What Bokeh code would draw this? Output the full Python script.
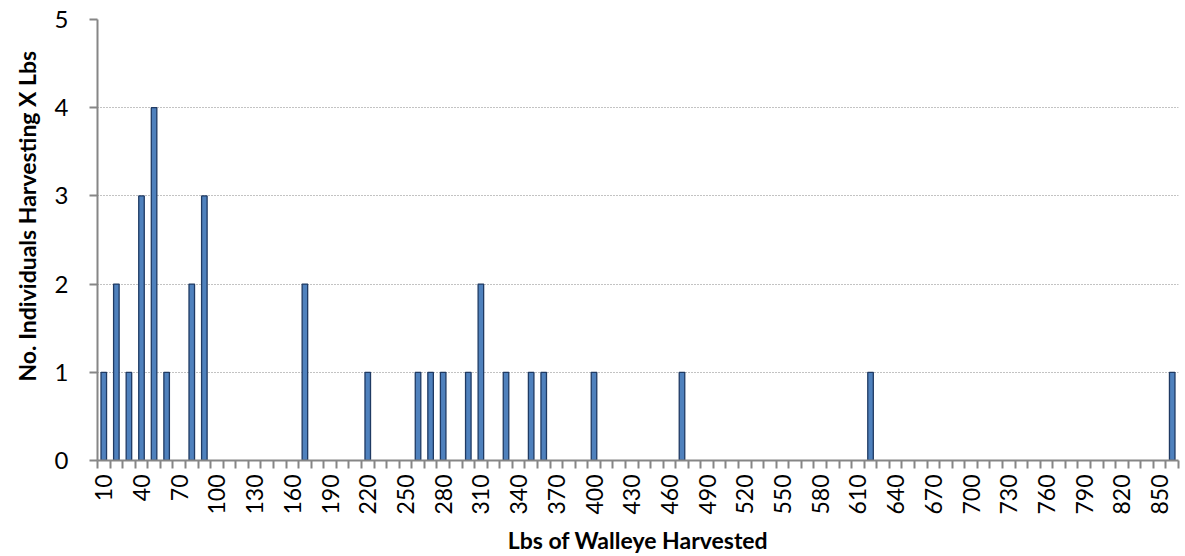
from bokeh.plotting import figure
from bokeh.models import FixedTicker, Range1d, ColumnDataSource, Title
from bokeh.embed import file_html
from bokeh.resources import INLINE

# Categories (lbs harvested, bins of 10 lbs) shown on the axis
categories = list(range(10, 870, 10))
tick_labels = ["10", "40", "70", "100", "130", "160", "190", "220", "250", "280",
               "310", "340", "370", "400", "430", "460", "490", "520", "550", "580",
               "610", "640", "670", "700", "730", "760", "790", "820", "850"]

# Non-zero bars
harvest_lbs = [10, 20, 30, 40, 50, 60, 80, 90, 170, 220, 260, 270, 280, 300,
               310, 330, 350, 360, 400, 470, 620, 860]
counts = [1, 2, 1, 3, 4, 1, 2, 3, 2, 1, 1, 1, 1, 1,
          2, 1, 1, 1, 1, 1, 1, 1]

x_title = "Lbs of Walleye Harvested"
y_title = "No. Individuals Harvesting X Lbs"

FONT = "Lato"
GRAY = "#868686"

p = figure(width=1185, height=556, output_backend="svg", toolbar_location=None,
           min_border_left=97, min_border_right=7, min_border_top=19, min_border_bottom=95)
p.x_range = Range1d(categories[0] - 5, categories[-1] + 5)
p.y_range = Range1d(0, 5)
p.outline_line_color = None

src = ColumnDataSource(dict(x=harvest_lbs, top=counts))
p.vbar(x="x", top="top", bottom=0, width=4.4, source=src,
       fill_color="#4F81BD", line_color="#1F3A63", line_width=1.3)

# x axis
tick_vals = [int(t) for t in tick_labels]
boundaries = [c - 5 for c in categories] + [categories[-1] + 5]
p.xaxis.ticker = FixedTicker(ticks=tick_vals, minor_ticks=boundaries)
p.xaxis.major_label_overrides = {v: s for v, s in zip(tick_vals, tick_labels)}
p.xaxis.major_label_orientation = 1.5707963
p.xaxis.major_tick_line_color = None
p.xaxis.major_tick_out = 8
p.xaxis.major_tick_in = 0
p.xaxis.minor_tick_line_color = GRAY
p.xaxis.minor_tick_line_width = 2
p.xaxis.minor_tick_out = 8
p.xaxis.minor_tick_in = 0
p.xaxis.axis_line_color = GRAY
p.xaxis.axis_line_width = 2
p.xaxis.major_label_standoff = 6
p.xaxis.major_label_text_font = FONT
p.xaxis.major_label_text_font_size = "23px"
p.xaxis.major_label_text_color = "#000000"
p.xaxis.axis_label = x_title
p.xaxis.axis_label_text_font = FONT
p.xaxis.axis_label_text_font_size = "23px"
p.xaxis.axis_label_text_font_style = "bold"
p.xaxis.axis_label_text_color = "#000000"
p.xaxis.axis_label_standoff = 8

# y axis
p.yaxis.ticker = FixedTicker(ticks=[0, 1, 2, 3, 4, 5], minor_ticks=[])
p.yaxis.axis_line_color = GRAY
p.yaxis.axis_line_width = 2
p.yaxis.major_tick_line_color = GRAY
p.yaxis.major_tick_line_width = 2
p.yaxis.major_tick_out = 8
p.yaxis.major_tick_in = 0
p.yaxis.major_label_standoff = 21
p.yaxis.major_label_text_font = FONT
p.yaxis.major_label_text_font_size = "24px"
p.yaxis.major_label_text_color = "#000000"

# y title starts a little above the frame bottom, as in the original
p.add_layout(Title(text=y_title, align="left", offset=79, standoff=21,
                   text_font=FONT, text_font_size="23px", text_font_style="bold",
                   text_color="#000000"), "left")

p.xgrid.grid_line_color = None
p.ygrid.grid_line_color = GRAY
p.ygrid.grid_line_dash = "1 2"
p.ygrid.grid_line_width = 1

open("out.html", "w").write(file_html(p, INLINE))
